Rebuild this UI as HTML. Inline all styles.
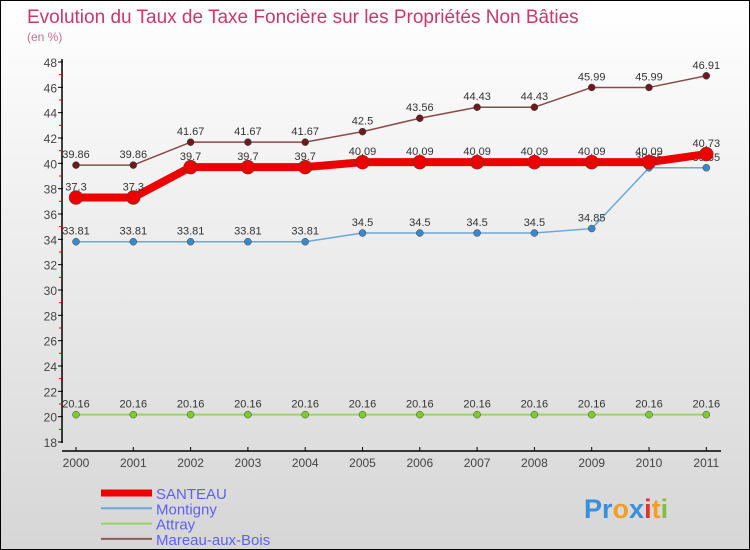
<!DOCTYPE html>
<html><head><meta charset="utf-8"><style>
body{margin:0}
#c{position:relative;width:748px;height:548px;border:1px solid #000;background:linear-gradient(#fff,#d6d6d6);overflow:hidden;font-family:"Liberation Sans",sans-serif}
</style></head><body>
<div id="c">
<svg id="s" width="748" height="548" xmlns="http://www.w3.org/2000/svg">
<text x="26" y="22" font-size="19" fill="#c8386a">Evolution du Taux de Taxe Foncière sur les Propriétés Non Bâties</text>
<text x="26" y="40" font-size="12" fill="#d06890">(en %)</text>
<g id="g"></g>
<text x="583" y="517" font-size="27" font-weight="bold"><tspan fill="#3a8fd8">Pr</tspan><tspan fill="#f0a020">o</tspan><tspan fill="#3a8fd8">x</tspan><tspan fill="#e03030">i</tspan><tspan fill="#f0a020">t</tspan><tspan fill="#80c040">i</tspan></text>
</svg>
</div>
<script>
const years=[2000,2001,2002,2003,2004,2005,2006,2007,2008,2009,2010,2011];
const santeau=[37.3,37.3,39.7,39.7,39.7,40.09,40.09,40.09,40.09,40.09,40.09,40.73];
const montigny=[33.81,33.81,33.81,33.81,33.81,34.5,34.5,34.5,34.5,34.85,39.65,39.65];
const attray=[20.16,20.16,20.16,20.16,20.16,20.16,20.16,20.16,20.16,20.16,20.16,20.16];
const mareau=[39.86,39.86,41.67,41.67,41.67,42.5,43.56,44.43,44.43,45.99,45.99,46.91];
const yTicks=[18,20,22,24,26,28,30,32,34,36,38,40,42,44,46,48];
const NS="http://www.w3.org/2000/svg";
const g=document.getElementById('g');
const X=i=>75+i*57.3;
const Y=v=>441-(v-18)*12.667;
function el(t,a,txt){const e=document.createElementNS(NS,t);for(const k in a)e.setAttribute(k,a[k]);if(txt!==undefined)e.textContent=txt;g.appendChild(e);return e;}
let e=el('line',{x1:61,y1:58,x2:61,y2:442,stroke:'#000','stroke-width':1.5});


e=el('line',{x1:61,y1:450,x2:720,y2:450,stroke:'#000','stroke-width':1.5});


yTicks.forEach((t,i)=>{
 el('line',{x1:57,y1:Y(t),x2:62,y2:Y(t),stroke:'#000'});
 if(i<yTicks.length-1)el('line',{x1:58,y1:Y(t+1),x2:61,y2:Y(t+1),stroke:'#e00'});
 e=el('text',{x:56,y:Y(t)+5,'font-size':12,fill:'#444','text-anchor':'end'},t);
 
 
});
years.forEach((yr,i)=>{
 el('line',{x1:X(i),y1:446,x2:X(i),y2:450,stroke:'#000'});
 e=el('text',{x:X(i),y:466,'font-size':12,fill:'#444','text-anchor':'middle'},yr);
 
 
});
function series(d,col,w,dot,r,name){
 const p=el('polyline',{points:d.map((v,i)=>X(i)+','+Y(v)).join(' '),fill:'none',stroke:col,'stroke-width':w,'stroke-linejoin':'round'});
 
 
 d.forEach((v,i)=>{
  const c=el('circle',{cx:X(i),cy:Y(v),r:r,fill:dot,stroke:'#444','stroke-width':0.5});
  
  
  const t=el('text',{x:X(i),y:Y(v)-7,'font-size':11,fill:'#333','text-anchor':'middle'},v);
  
  
 });
}
series(attray,'#9cd070',2,'#7ccc30',3.5,'attray');
series(montigny,'#6aa8d8',1.5,'#3a88cc',3.5,'montigny');
series(mareau,'#8a4a4a',1.5,'#6a1a20',3.5,'mareau');
series(santeau,'#ee0000',8,'#ee0000',7,'santeau');
const leg=[['SANTEAU','#ee0000',7],['Montigny','#6aa8d8',2],['Attray','#9cd070',2],['Mareau-aux-Bois','#8a5a5a',2]];
leg.forEach((l,i)=>{
 const y=492+i*15.3;
 e=el('line',{x1:100,y1:y,x2:151,y2:y,stroke:l[1],'stroke-width':l[2]});
 
 
 e=el('text',{x:155,y:y+6,'font-size':15,fill:'#6060f0'},l[0]);
 
 
});
</script>
</body></html>
